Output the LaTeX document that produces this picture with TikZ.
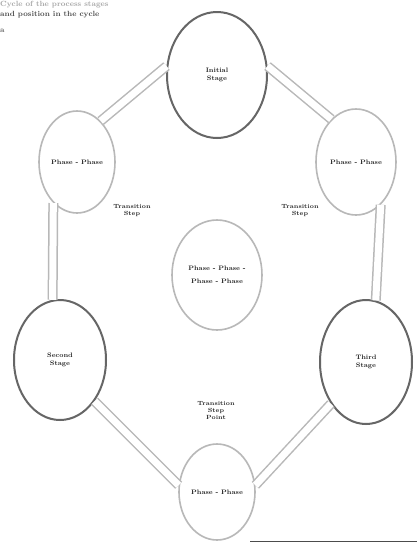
\documentclass[tikz,border=0pt]{standalone}
\usetikzlibrary{shapes.geometric}
\begin{document}
\begin{tikzpicture}[x=1pt,y=-1pt,
  txt/.style={font=\fontsize{6.5}{7.5}\selectfont\bfseries, align=center, text=black!85},
  darkell/.style={ellipse, draw=black!60, line width=2pt, fill=white, inner sep=0pt, txt},
  lightell/.style={ellipse, draw=black!28, line width=1.6pt, fill=white, inner sep=0pt, txt},
  ring/.style={draw=black!28, line width=1.5pt, double=white, double distance=7pt},
  lbl/.style={txt, font=\fontsize{6}{7}\selectfont\bfseries}
]
\useasboundingbox (0,0) rectangle (417,542);
\fill[white] (0,0) rectangle (417,542);

% title text (top left)
\node[anchor=north west, align=left, inner sep=0pt, font=\fontsize{7.5}{9}\selectfont\bfseries, text=black!35] (title) at (0,1)
  {Cycle of the process stages\\[1pt] \textcolor{black!70}{and position in the cycle}\\[7pt] \textcolor{black!60}{a}};

% ellipses
\node[darkell, minimum width=100, minimum height=126] (top) at (217,75) {Initial\\Stage};
\node[lightell, minimum width=76, minimum height=102] (ul) at (77,162) {Phase - Phase};
\node[lightell, minimum width=80, minimum height=106] (ur) at (356,162) {Phase - Phase};
\node[lightell, minimum width=90, minimum height=110] (mid) at (217,275) {Phase - Phase -\\[5pt] Phase - Phase};
\node[darkell, minimum width=92, minimum height=120] (bl) at (60,360) {Second\\Stage};
\node[darkell, minimum width=92, minimum height=124] (br) at (366,362) {Third\\Stage};
\node[lightell, minimum width=76, minimum height=96] (bot) at (217,492) {Phase - Phase};

% ring connectors (double lines)
\draw[ring] (top.170) -- (ul.60);
\draw[ring] (top.10) -- (ur.120);
\draw[ring] (ul.240) -- (bl.97);
\draw[ring] (ur.300) -- (br.81);
\draw[ring] (bl.-50) -- (bot.170);
\draw[ring] (br.230) -- (bot.10);

% transition labels
\node[lbl] (lab1) at (132,211) {Transition\\Step};
\node[lbl] (lab2) at (300,211) {Transition\\Step};
\node[lbl] (lab3) at (216,410) {Transition\\Step\\Point};

% bottom right rule
\coordinate (r1) at (250,541);
\coordinate (r2) at (417,541);
\draw[black!70, line width=1pt] (r1) -- (r2);
\end{tikzpicture}
\end{document}
